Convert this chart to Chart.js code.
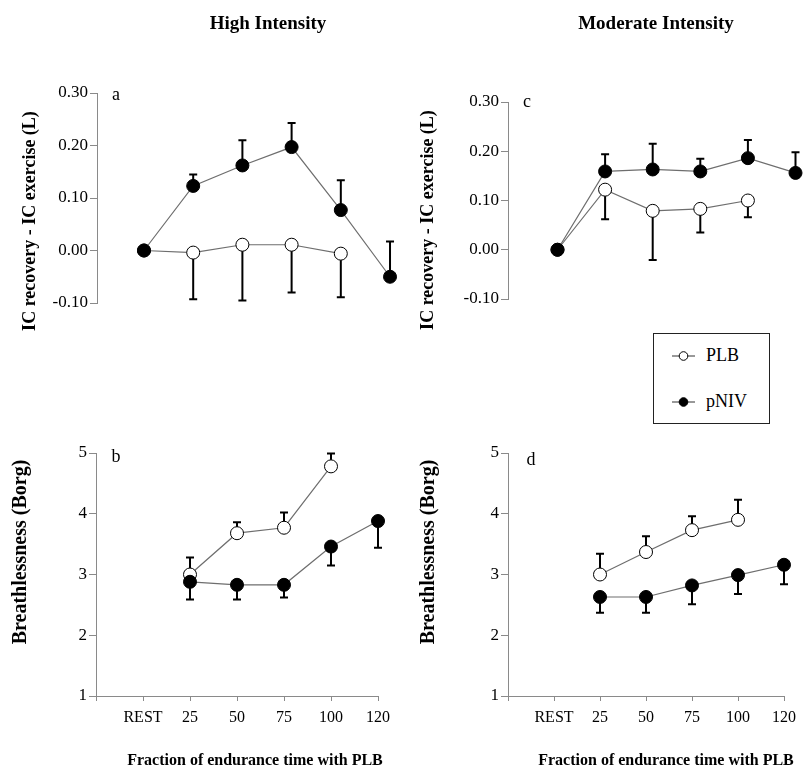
<!DOCTYPE html>
<html>
<head>
<meta charset="utf-8">
<script src="https://cdn.jsdelivr.net/npm/chart.js@4.4.0/dist/chart.umd.min.js"></script>
<style>
  html, body { margin: 0; padding: 0; background: #fff; }
  #fig { position: relative; width: 803px; height: 769px; overflow: hidden;
         font-family: 'Liberation Serif', 'Times New Roman', serif; color: #000; }
  .cv { position: absolute; }
  .t { position: absolute; white-space: nowrap; line-height: 1; }
  .head { font-weight: bold; font-size: 19px; transform: translate(-50%, -50%); }
  .ylab { font-weight: bold; transform: translate(-50%, -50%) rotate(-90deg); }
  .xlab { font-weight: bold; font-size: 16px; transform: translate(-50%, -50%); }
  .tag { font-size: 18px; transform: translate(-50%, -50%); }
  #legend { position: absolute; left: 653px; top: 333px; width: 115px; height: 89px;
            border: 1.5px solid #222; background: #fff; }
  .lg { position: absolute; left: 18px; display: flex; align-items: center; font-size: 18px; }
  .lg svg { margin-right: 11px; }
</style>
</head>
<body>
<div id="fig">
  <canvas id="cA" class="cv" style="left:0;top:0" width="400" height="380"></canvas>
  <canvas id="cC" class="cv" style="left:400px;top:0" width="403" height="380"></canvas>
  <canvas id="cB" class="cv" style="left:0;top:400px" width="400" height="369"></canvas>
  <canvas id="cD" class="cv" style="left:400px;top:400px" width="403" height="369"></canvas>

  <div class="t head" style="left:268px;top:22px">High Intensity</div>
  <div class="t head" style="left:656px;top:22px">Moderate Intensity</div>

  <div class="t ylab" style="left:29px;top:221px;font-size:18px">IC recovery - IC exercise (L)</div>
  <div class="t ylab" style="left:427px;top:220px;font-size:18px">IC recovery - IC exercise (L)</div>
  <div class="t ylab" style="left:19px;top:552px;font-size:20px">Breathlessness (Borg)</div>
  <div class="t ylab" style="left:427px;top:552px;font-size:20px">Breathlessness (Borg)</div>

  <div class="t xlab" style="left:255px;top:760px">Fraction of endurance time with PLB</div>
  <div class="t xlab" style="left:666px;top:760px">Fraction of endurance time with PLB</div>

  <div class="t tag" style="left:116px;top:94px">a</div>
  <div class="t tag" style="left:116px;top:456px">b</div>
  <div class="t tag" style="left:527px;top:101px">c</div>
  <div class="t tag" style="left:531px;top:459px">d</div>

  <div id="legend">
    <div class="lg" style="top:11px">
      <svg width="23" height="12"><line x1="0" y1="6" x2="23" y2="6" stroke="#333" stroke-width="1"/><circle cx="11.5" cy="6" r="4.3" fill="#fff" stroke="#000" stroke-width="1"/></svg>PLB
    </div>
    <div class="lg" style="top:57px">
      <svg width="23" height="12"><line x1="0" y1="6" x2="23" y2="6" stroke="#333" stroke-width="1"/><circle cx="11.5" cy="6" r="4.3" fill="#000" stroke="#000" stroke-width="1"/></svg>pNIV
    </div>
  </div>
</div>

<script>
// Time points (index 0 is the empty slot at the axis origin)
const xLabels = ['', 'REST', '25', '50', '75', '100', '120'];

// Values per time point: REST, 25, 50, 75, 100, 120

// High intensity - change in inspiratory capacity (L)
const highIcPLB     = [0, -0.004, 0.011, 0.011, -0.006, null];
const highIcPLBErr  = [null, 0.089, 0.106, 0.091, 0.083, null];
const highIcNIV     = [0, 0.123, 0.162, 0.197, 0.077, -0.050];
const highIcNIVErr  = [null, 0.022, 0.048, 0.046, 0.057, 0.067];

// Moderate intensity - change in inspiratory capacity (L)
const modIcPLB      = [0, 0.122, 0.079, 0.083, 0.100, null];
const modIcPLBErr   = [null, 0.060, 0.100, 0.048, 0.034, null];
const modIcNIV      = [0, 0.159, 0.163, 0.159, 0.186, 0.156];
const modIcNIVErr   = [null, 0.035, 0.052, 0.026, 0.037, 0.042];

// High intensity - breathlessness (Borg)
const highBorgPLB    = [null, 3.00, 3.68, 3.77, 4.78, null];
const highBorgPLBErr = [null, 0.28, 0.18, 0.25, 0.21, null];
const highBorgNIV    = [null, 2.88, 2.83, 2.83, 3.46, 3.88];
const highBorgNIVErr = [null, 0.29, 0.24, 0.21, 0.31, 0.44];

// Moderate intensity - breathlessness (Borg)
const modBorgPLB     = [null, 3.00, 3.37, 3.73, 3.90, null];
const modBorgPLBErr  = [null, 0.34, 0.26, 0.23, 0.33, null];
const modBorgNIV     = [null, 2.63, 2.63, 2.82, 2.99, 3.16];
const modBorgNIVErr  = [null, 0.26, 0.26, 0.31, 0.31, 0.32];

const FONT = "'Liberation Serif', 'Times New Roman', serif";
const AXIS_GREY = '#8a8a8a';
const LINE_GREY = '#6e6e6e';

// One-sided error bars with caps, drawn under the markers
const errorBars = {
  id: 'errorBars',
  beforeDatasetsDraw(chart) {
    const ctx = chart.ctx;
    const ys = chart.scales.y;
    chart.data.datasets.forEach((ds, i) => {
      const meta = chart.getDatasetMeta(i);
      ctx.save();
      ctx.strokeStyle = '#000';
      ctx.lineWidth = 2;
      ds.data.forEach((pt, j) => {
        if (pt.e == null) return;
        const x = meta.data[j].x;
        const y0 = ys.getPixelForValue(pt.y);
        const y1 = ys.getPixelForValue(pt.y + ds.errDir * pt.e);
        ctx.beginPath();
        ctx.moveTo(x, y0); ctx.lineTo(x, y1);
        ctx.moveTo(x - 4, y1); ctx.lineTo(x + 4, y1);
        ctx.stroke();
      });
      ctx.restore();
    });
  }
};

function points(values, errs) {
  return values
    .map((v, i) => (v == null ? null : { x: i + 1, y: v, e: errs[i] }))
    .filter(Boolean);
}

function series(label, values, errs, filled, errDir) {
  return {
    label,
    data: points(values, errs),
    errDir,
    borderColor: LINE_GREY,
    borderWidth: 1.2,
    pointRadius: 6.5,
    pointHoverRadius: 6.5,
    pointBorderWidth: 1,
    pointBorderColor: '#000',
    pointBackgroundColor: filled ? '#000' : '#fff',
    tension: 0,
    clip: false
  };
}

function makeChart(id, cfg) {
  const yTicks = {
    color: '#000', padding: 2, stepSize: cfg.step,
    font: { family: FONT, size: 17 },
    callback: v => cfg.fmt(v)
  };
  return new Chart(document.getElementById(id), {
    type: 'line',
    data: {
      datasets: [
        series('pNIV', cfg.niv, cfg.nivErr, true, cfg.nivDir),
        series('PLB', cfg.plb, cfg.plbErr, false, -cfg.nivDir)
      ]
    },
    options: {
      responsive: false,
      animation: false,
      events: [],
      layout: { padding: cfg.pad },
      plugins: { legend: { display: false }, tooltip: { enabled: false } },
      scales: {
        x: {
          type: 'linear',
          display: cfg.showX,
          min: cfg.xMin, max: cfg.xMax,
          afterFit: s => { s.height = 40; },
          afterBuildTicks: s => { s.ticks = xLabels.map((_, i) => ({ value: i })); },
          ticks: {
            color: '#000', padding: 7, autoSkip: false, maxRotation: 0,
            font: { family: FONT, size: 16 },
            callback: v => xLabels[v]
          },
          grid: { drawOnChartArea: false, drawTicks: true, tickLength: 5, color: AXIS_GREY },
          border: { display: true, color: AXIS_GREY, width: 1 }
        },
        y: {
          min: cfg.yMin, max: cfg.yMax,
          afterFit: s => { s.width = cfg.yWidth; },
          ticks: yTicks,
          grid: { drawOnChartArea: false, drawTicks: true, tickLength: 7, color: AXIS_GREY },
          border: { display: true, color: AXIS_GREY, width: 1 }
        }
      }
    },
    plugins: [errorBars]
  });
}

const fmtIC = v => v.toFixed(2);
const fmtBorg = v => String(Math.round(v));

makeChart('cA', {
  plb: highIcPLB, plbErr: highIcPLBErr, niv: highIcNIV, nivErr: highIcNIVErr, nivDir: 1,
  yMin: -0.1, yMax: 0.3, step: 0.1, fmt: fmtIC, yWidth: 97,
  xMin: 0.045, xMax: 6.02, showX: false,
  pad: { left: 0, top: 93, right: 9, bottom: 37 }
});

makeChart('cC', {
  plb: modIcPLB, plbErr: modIcPLBErr, niv: modIcNIV, nivErr: modIcNIVErr, nivDir: 1,
  yMin: -0.1, yMax: 0.3, step: 0.1, fmt: fmtIC, yWidth: 108,
  xMin: -0.04, xMax: 6, showX: false,
  pad: { left: 0, top: 102, right: 1, bottom: 41 }
});

makeChart('cB', {
  plb: highBorgPLB, plbErr: highBorgPLBErr, niv: highBorgNIV, nivErr: highBorgNIVErr, nivDir: -1,
  yMin: 1, yMax: 5, step: 1, fmt: fmtBorg, yWidth: 96,
  xMin: 0, xMax: 6, showX: true,
  pad: { left: 0, top: 53, right: 22, bottom: 33 }
});

makeChart('cD', {
  plb: modBorgPLB, plbErr: modBorgPLBErr, niv: modBorgNIV, nivErr: modBorgNIVErr, nivDir: -1,
  yMin: 1, yMax: 5, step: 1, fmt: fmtBorg, yWidth: 108,
  xMin: 0, xMax: 6, showX: true,
  pad: { left: 0, top: 53, right: 12, bottom: 33 }
});
</script>
</body>
</html>
